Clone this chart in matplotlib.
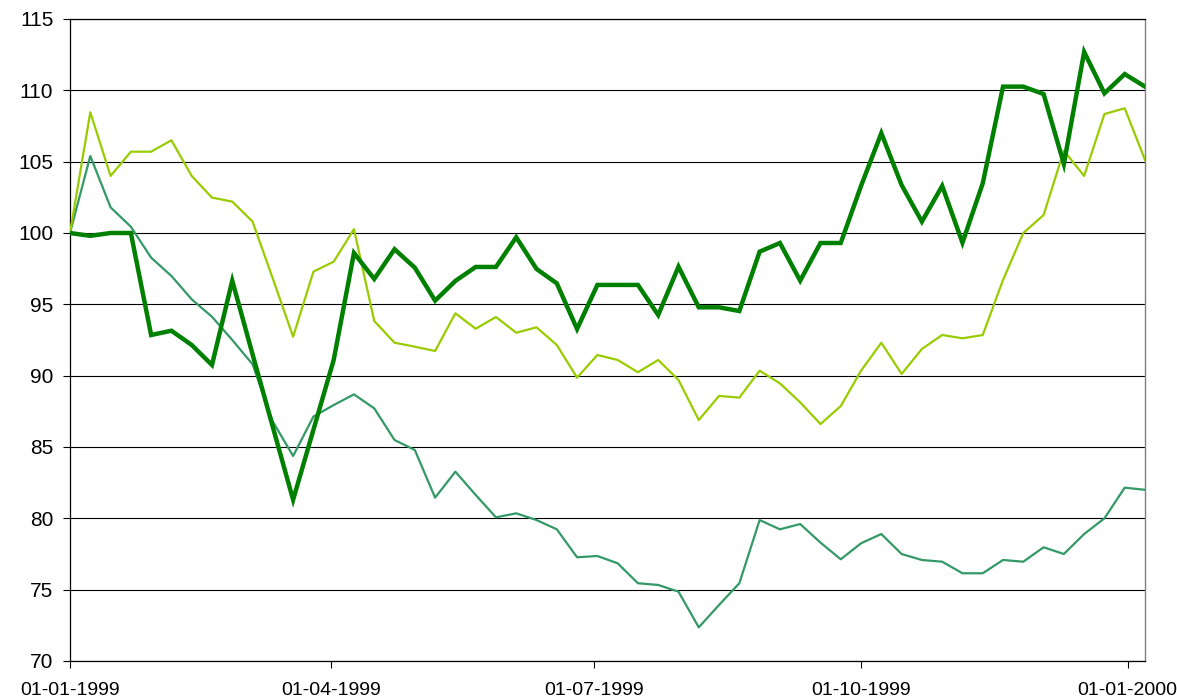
import matplotlib
matplotlib.use("Agg")
import matplotlib.pyplot as plt
import matplotlib.dates as mdates
import pandas as pd

# ---- data ----
start_date = "1999-01-01"
n_weeks = 54
dates = pd.date_range(start_date, periods=n_weeks, freq="7D")

dark_green = [100.0, 99.8, 100.0, 100.0, 92.85, 93.15, 92.15, 90.75, 96.66, 91.5,
              86.4, 81.3, 86.2, 91.1, 98.6, 96.78, 98.86, 97.57, 95.26, 96.64,
              97.62, 97.62, 99.7, 97.48, 96.47, 93.27, 96.36, 96.36, 96.36, 94.25,
              97.64, 94.79, 94.79, 94.53, 98.69, 99.3, 96.66, 99.3, 99.3, 103.3,
              107.0, 103.36, 100.8, 103.3, 99.32, 103.48, 110.26, 110.26, 109.74, 104.84,
              112.69, 109.79, 111.14, 110.26]

light_green = [100.0, 108.46, 104.0, 105.7, 105.7, 106.5, 104.0, 102.48, 102.2, 100.8,
               96.8, 92.73, 97.29, 97.99, 100.27, 93.83, 92.31, 92.03, 91.73, 94.37,
               93.29, 94.11, 93.01, 93.39, 92.15, 89.86, 91.45, 91.1, 90.24, 91.1,
               89.7, 86.89, 88.58, 88.46, 90.35, 89.46, 88.13, 86.61, 87.87, 90.35,
               92.31, 90.12, 91.87, 92.85, 92.62, 92.85, 96.71, 100.0, 101.26, 105.77,
               104.0, 108.34, 108.74, 105.12]

teal = [100.0, 105.4, 101.8, 100.44, 98.27, 96.99, 95.35, 94.13, 92.5, 90.8,
        86.78, 84.37, 87.13, 87.94, 88.69, 87.71, 85.49, 84.79, 81.45, 83.27,
        81.64, 80.07, 80.35, 79.88, 79.23, 77.27, 77.36, 76.85, 75.45, 75.33,
        74.86, 72.36, 73.93, 75.45, 79.88, 79.23, 79.6, 78.3, 77.13, 78.25,
        78.9, 77.5, 77.08, 76.96, 76.15, 76.15, 77.08, 76.96, 77.97, 77.5,
        78.9, 80.0, 82.15, 82.0]

x_ticks = ["1999-01-01", "1999-04-01", "1999-07-01", "1999-10-01", "2000-01-01"]
y_ticks = [70, 75, 80, 85, 90, 95, 100, 105, 110, 115]

# ---- plot ----
plt.rcParams["font.family"] = ["Liberation Sans", "DejaVu Sans"]

fig = plt.figure(figsize=(11.77, 6.98), dpi=100)
ax = fig.add_axes([70 / 1177, (698 - 661) / 698, (1145 - 70) / 1177, (661 - 19) / 698])

ax.plot(dates, teal, color="#339966", lw=1.6, zorder=3)
ax.plot(dates, light_green, color="#99CC00", lw=1.6, zorder=4)
ax.plot(dates, dark_green, color="#008000", lw=3.2, zorder=5, solid_joinstyle="miter")

ax.set_xlim(dates[0], dates[-1])
ax.set_ylim(70, 115)
ax.set_yticks(y_ticks)
ax.set_xticks(pd.to_datetime(x_ticks))
ax.xaxis.set_major_formatter(mdates.DateFormatter("%d-%m-%Y"))

ax.yaxis.grid(True, color="black", lw=0.8)
ax.set_axisbelow(True)

for s in ["left", "bottom", "top"]:
    ax.spines[s].set_color("black")
    ax.spines[s].set_linewidth(0.9)
ax.spines["right"].set_color("#808080")
ax.spines["right"].set_linewidth(1.0)

ax.tick_params(axis="y", direction="out", length=5, width=0.8, pad=7, labelsize=15)
ax.tick_params(axis="x", direction="out", length=5, width=0.8, pad=10, labelsize=14)

fig.savefig("out.png", dpi=100)
